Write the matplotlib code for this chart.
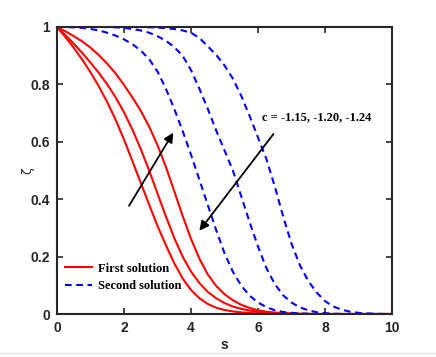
import numpy as np
import matplotlib
matplotlib.use("Agg")
import matplotlib.pyplot as plt
from matplotlib.lines import Line2D

# ---- data ----
s = [0.0, 0.25, 0.5, 0.75, 1.0, 1.25, 1.5, 1.75, 2.0, 2.25,
     2.5, 2.75, 3.0, 3.25, 3.5, 3.75, 4.0, 4.25, 4.5, 4.75,
     5.0, 5.25, 5.5, 5.75, 6.0, 6.25, 6.5, 6.75, 7.0, 7.25,
     7.5, 7.75, 8.0, 8.25, 8.5, 8.75, 9.0, 9.25, 9.5, 9.75, 10.0]

# first solutions (red, solid)
first_1 = [1.0, 0.965, 0.928, 0.887, 0.842, 0.793, 0.738, 0.677, 0.608, 0.533,
           0.457, 0.381, 0.307, 0.24, 0.177, 0.124, 0.084, 0.055, 0.035, 0.022,
           0.014, 0.009, 0.0055, 0.0035, 0.002, 0.001, 0.0005, 0.0, 0.0, 0.0,
           0.0, 0.0, 0.0, 0.0, 0.0, 0.0, 0.0, 0.0, 0.0, 0.0, 0.0]
first_2 = [1.0, 0.972, 0.942, 0.91, 0.876, 0.84, 0.80, 0.755, 0.703, 0.643,
           0.575, 0.50, 0.42, 0.34, 0.265, 0.20, 0.148, 0.108, 0.077, 0.055,
           0.038, 0.026, 0.018, 0.012, 0.008, 0.005, 0.003, 0.002, 0.001, 0.0,
           0.0, 0.0, 0.0, 0.0, 0.0, 0.0, 0.0, 0.0, 0.0, 0.0, 0.0]
first_3 = [1.0, 0.985, 0.968, 0.95, 0.928, 0.902, 0.872, 0.838, 0.798, 0.755,
           0.708, 0.653, 0.588, 0.513, 0.428, 0.342, 0.262, 0.193, 0.138, 0.098,
           0.069, 0.048, 0.032, 0.021, 0.013, 0.008, 0.005, 0.003, 0.002, 0.001,
           0.0005, 0.0, 0.0, 0.0, 0.0, 0.0, 0.0, 0.0, 0.0, 0.0, 0.0]

# second solutions (blue, dashed)
second_1 = [1.0, 1.0, 0.999, 0.997, 0.993, 0.988, 0.98, 0.97, 0.957, 0.94,
            0.918, 0.888, 0.845, 0.785, 0.715, 0.638, 0.555, 0.468, 0.38, 0.293,
            0.212, 0.147, 0.099, 0.064, 0.04, 0.024, 0.013, 0.007, 0.004, 0.002,
            0.001, 0.0, 0.0, 0.0, 0.0, 0.0, 0.0, 0.0, 0.0, 0.0, 0.0]
second_2 = [1.0, 1.0, 1.0, 1.0, 1.0, 1.0, 1.0, 0.999, 0.997, 0.993,
            0.988, 0.98, 0.968, 0.952, 0.93, 0.9, 0.85, 0.785, 0.715, 0.64,
            0.57, 0.5, 0.41, 0.32, 0.235, 0.16, 0.105, 0.065, 0.04, 0.023,
            0.013, 0.006, 0.003, 0.001, 0.0, 0.0, 0.0, 0.0, 0.0, 0.0, 0.0]
second_3 = [1.0, 1.0, 1.0, 1.0, 1.0, 1.0, 1.0, 1.0, 1.0, 1.0,
            1.0, 0.999, 0.998, 0.996, 0.993, 0.988, 0.98, 0.962, 0.933, 0.903,
            0.866, 0.82, 0.76, 0.69, 0.615, 0.54, 0.445, 0.34, 0.245, 0.17,
            0.115, 0.075, 0.045, 0.026, 0.015, 0.008, 0.004, 0.002, 0.001, 0.0, 0.0]

x_ticks = [0, 2, 4, 6, 8, 10]
y_ticks = [0, 0.2, 0.4, 0.6, 0.8, 1]
x_ticklabels = ["0", "2", "4", "6", "8", "10"]
y_ticklabels = ["0", "0.2", "0.4", "0.6", "0.8", "1"]

legend_labels = ["First solution", "Second solution"]
annotation_text = "c = -1.15, -1.20, -1.24"

# ---- figure ----
fig = plt.figure(figsize=(4.36, 3.57), dpi=100)
ax = fig.add_axes([57/436, 43/357, 335/436, 287/357])

red = "#ff0000"
blue = "#0000ff"
lw = 1.5
dash = (3.2, 2.2)

h1, = ax.plot(s, first_1, color=red, lw=lw)
ax.plot(s, first_2, color=red, lw=lw)
ax.plot(s, first_3, color=red, lw=lw)
h2, = ax.plot(s, second_1, color=blue, lw=lw, dashes=dash)
ax.plot(s, second_2, color=blue, lw=lw, dashes=dash)
ax.plot(s, second_3, color=blue, lw=lw, dashes=dash)

ax.set_xlim(0, 10)
ax.set_ylim(0, 1)
ax.set_xticks(x_ticks)
ax.set_yticks(y_ticks)

tick_font = dict(family="Liberation Sans", weight="bold", size=10)
ax.set_xticklabels(x_ticklabels, fontdict=tick_font)
ax.set_yticklabels(y_ticklabels, fontdict=tick_font)
ax.tick_params(direction="in", length=4, width=1.2, color="#262626",
               top=True, right=True, labelcolor="#262626", pad=5)
for sp in ax.spines.values():
    sp.set_linewidth(1.5)
    sp.set_color("#262626")

ax.set_xlabel("s", fontdict=dict(family="Liberation Sans", weight="bold", size=10),
              color="#262626", labelpad=2)
ax.set_ylabel("ζ", fontdict=dict(family="DejaVu Sans", size=9), color="#262626",
              labelpad=-2.5)

# arrows
arrow_props = dict(arrowstyle="-|>", color="black", lw=1.3,
                   mutation_scale=14, shrinkA=0, shrinkB=0)
ax.annotate("", xy=(3.47, 0.632), xytext=(2.15, 0.377), arrowprops=arrow_props)
ax.annotate("", xy=(4.25, 0.29), xytext=(6.46, 0.627), arrowprops=arrow_props)

ax.text(6.13, 0.686, annotation_text, family="Liberation Serif", weight="bold",
        size=9, ha="left", va="center")

leg = ax.legend([h1, h2], legend_labels, loc="lower left",
                bbox_to_anchor=(0.0, 0.05), frameon=False,
                prop=dict(family="Liberation Serif", weight="bold", size=9),
                handlelength=2.2, handletextpad=0.5, labelspacing=0.45,
                borderaxespad=0.2)

# faint bottom border line of the original image
fig.add_artist(Line2D([0, 1], [1 - 352.5/357, 1 - 352.5/357],
                      transform=fig.transFigure, color="#e4e4e4", lw=1))

fig.savefig("out.png", dpi=100)
